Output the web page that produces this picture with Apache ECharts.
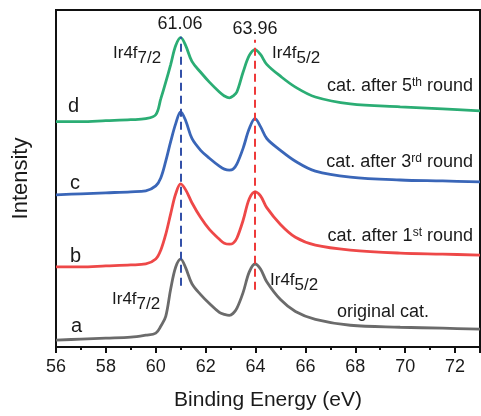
<!DOCTYPE html>
<html><head><meta charset="utf-8">
<script src="https://cdn.jsdelivr.net/npm/echarts@6/dist/echarts.min.js"></script>
<style>html,body{margin:0;padding:0;background:#fff}#c{width:481px;height:416px}</style>
</head><body><div id="c"></div>
<script>
// Binding energy sample points (eV)
const energy = [56.0, 57.0, 58.0, 59.0, 59.6, 60.0, 60.2, 60.4, 60.6, 60.8, 61.0, 61.2, 61.45, 61.8, 62.15, 62.55, 62.75, 62.95, 63.1, 63.25, 63.5, 63.75, 63.98, 64.2, 64.45, 65.0, 65.6, 66.4, 67.8, 69.8, 71.5, 73.0];
// Offset intensities (arbitrary units)
const seriesA = [7, 8, 9, 10, 12, 14, 21, 31, 59, 81, 89, 80, 64, 53, 44, 35, 33, 32, 34, 39, 55, 76, 84, 79, 66, 48, 36, 28, 22, 20, 19, 18];
const seriesB = [81, 81, 82, 83, 84, 89, 98, 114, 135, 155, 165, 159, 146, 131, 119, 109, 105, 104, 105, 110, 128, 150, 157, 153, 141, 124, 111, 103, 98, 95, 94, 93];
const seriesC = [154, 155, 156, 157, 158, 163, 171, 188, 208, 226, 238, 229, 211, 199, 191, 183, 180, 179, 180, 185, 201, 221, 231, 223, 211, 199, 188, 178, 172, 169, 168, 167];
const seriesD = [228, 228, 229, 230, 231, 235, 251, 268, 286, 305, 313, 305, 289, 278, 268, 258, 254, 252, 254, 258, 278, 295, 301, 296, 286, 274, 263, 253, 246, 243, 241, 239];
const seriesNames = ['original cat.', 'cat. after 1st round', 'cat. after 3rd round', 'cat. after 5th round'];
const seriesColors = ['#6b6b6b', '#ee4848', '#3a66b8', '#2bad74'];
const xMin = 56, xMax = 73, xInterval = 2;
const yMin = 0, yMax = 341;
// peak reference lines: energy, lower and upper intensity
const refEnergies = [61.0, 63.98];
const refLow = [62, 58];
const refHigh = [314, 311];
const refColors = ['#3350a8', '#ee3a3a'];
const peakLabels = ['61.06', '63.96'];

const F = '"Liberation Sans", Arial, sans-serif';
const allData = [seriesA, seriesB, seriesC, seriesD];

const series = allData.map((vals, i) => ({
  name: seriesNames[i],
  type: 'line',
  data: energy.map((e, j) => [e, vals[j]]),
  showSymbol: false,
  smooth: 0.35,
  lineStyle: { color: seriesColors[i], width: 2.8 },
  itemStyle: { color: seriesColors[i] },
  z: 3
}));
series.push({
  type: 'line', data: [], silent: true,
  markLine: {
    symbol: 'none', silent: true, label: { show: false },
    data: refEnergies.map((e, k) => [
      { coord: [e, refLow[k]], lineStyle: { color: refColors[k], type: [8, 5], width: 2 } },
      { coord: [e, refHigh[k]] }
    ])
  },
  z: 4
});

const txt = (x, y, text, extra) => ({
  type: 'text', x, y, z: 10,
  style: Object.assign({ text, fill: '#1a1a1a', font: '18px ' + F, textVerticalAlign: 'middle' }, extra || {})
});
const subRich = {
  m: { fontSize: 17, fontFamily: F, color: '#1a1a1a', lineHeight: 17, verticalAlign: 'top' },
  s: { fontSize: 17, fontFamily: F, color: '#1a1a1a', lineHeight: 22, verticalAlign: 'bottom' }
};
const supRich = {
  m: { fontSize: 18, fontFamily: F, color: '#1a1a1a', lineHeight: 19, verticalAlign: 'bottom' },
  p: { fontSize: 12, fontFamily: F, color: '#1a1a1a', lineHeight: 19, verticalAlign: 'top' }
};
const richTxt = (x, y, text, rich, align) => ({
  type: 'text', x, y, z: 10,
  style: { text, rich, fill: '#1a1a1a', fontFamily: F, fontSize: 17, textAlign: align || 'left', textVerticalAlign: 'middle' }
});

const chart = echarts.init(document.getElementById('c'), null, { renderer: 'canvas' });
chart.setOption({
  animation: false,
  backgroundColor: '#fff',
  grid: { left: 56, right: 1, top: 10, bottom: 65, show: true, borderColor: '#111', borderWidth: 2, backgroundColor: 'transparent' },
  xAxis: {
    type: 'value', min: xMin, max: xMax, interval: xInterval,
    name: 'Binding Energy (eV)', nameLocation: 'middle', nameGap: 43,
    nameTextStyle: { fontSize: 21, fontFamily: F, color: '#1a1a1a' },
    axisLine: { show: true, onZero: false, lineStyle: { color: '#111', width: 2 } },
    axisTick: { show: true, inside: false, length: 6, lineStyle: { color: '#111', width: 2 } },
    minorTick: { show: true, splitNumber: 2, length: 3, lineStyle: { color: '#111', width: 2 } },
    axisLabel: { fontSize: 18, fontFamily: F, color: '#1a1a1a', margin: 11, showMaxLabel: false },
    splitLine: { show: false }
  },
  yAxis: {
    type: 'value', min: yMin, max: yMax,
    name: 'Intensity', nameLocation: 'middle', nameGap: 24,
    nameTextStyle: { fontSize: 22, fontFamily: F, color: '#1a1a1a' },
    axisLine: { show: true, lineStyle: { color: '#111', width: 2 } },
    axisTick: { show: false }, axisLabel: { show: false }, splitLine: { show: false }
  },
  series,
  graphic: [
    txt(180, 24, peakLabels[0], { textAlign: 'center' }),
    txt(255, 29, peakLabels[1], { textAlign: 'center' }),
    richTxt(113, 56, '{m|Ir4f}{s|7/2}', subRich),
    richTxt(272, 56, '{m|Ir4f}{s|5/2}', subRich),
    richTxt(112, 302, '{m|Ir4f}{s|7/2}', subRich),
    richTxt(270, 283, '{m|Ir4f}{s|5/2}', subRich),
    richTxt(473, 86, '{m|cat. after 5}{p|th}{m| round}', supRich, 'right'),
    richTxt(473, 162, '{m|cat. after 3}{p|rd}{m| round}', supRich, 'right'),
    richTxt(473, 236, '{m|cat. after 1}{p|st}{m| round}', supRich, 'right'),
    txt(337, 312, seriesNames[0]),
    txt(68, 106, 'd', { font: '20px ' + F }),
    txt(70, 183, 'c', { font: '20px ' + F }),
    txt(70, 256, 'b', { font: '20px ' + F }),
    txt(71, 326, 'a', { font: '20px ' + F })
  ]
});
</script></body></html>
